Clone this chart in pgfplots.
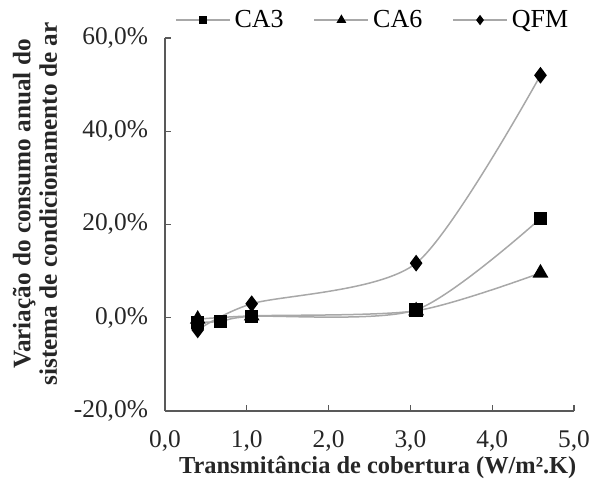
\documentclass[border=0pt]{standalone}
\usepackage{pgfplots}
\pgfplotsset{compat=1.18}
\usepackage{fontspec}
\setmainfont{Liberation Serif}
\definecolor{lgray}{RGB}{168,168,168}
\begin{document}
\begin{tikzpicture}
\path[use as bounding box] (-82.5pt,-39.5pt) rectangle (213.5pt,205.5pt);
\begin{axis}[
  at={(0,0)}, anchor=south west,
  scale only axis,
  width=204.5pt, height=186.5pt,
  xmin=0, xmax=5, ymin=-20, ymax=60,
  axis lines*=left,
  axis line style={black!65, line width=0.6pt},
  tick align=inside,
  tick style={black!65, line width=0.6pt},
  major tick length=3pt,
  xtick={0,1,2,3,4,5},
  ytick={-20,0,20,40,60},
  /pgf/number format/assume math mode=true,
  xticklabel={\pgfmathprintnumber[fixed,fixed zerofill,precision=1,use comma]{\tick}},
  yticklabel={\pgfmathprintnumber[fixed,fixed zerofill,precision=1,use comma]{\tick}\%},
  ticklabel style={font=\fontsize{12.7}{14}\selectfont, text=black!85},
  xticklabel style={yshift=-6.5pt},
  yticklabel style={xshift=-5pt},
  xlabel={\textbf{Transmitância de cobertura (W/m².K)}},
  ylabel={\textbf{Variação do consumo anual do}\\\textbf{sistema de condicionamento de ar}},
  ylabel style={at={(axis description cs:-0.318,0.555)}, anchor=center, align=center,
    font=\fontsize{12.6}{13.2}\selectfont, text=black!85},
  xlabel style={at={(axis description cs:0.52,-0.152)}, anchor=center,
    font=\fontsize{12.2}{13}\selectfont, text=black!85},
  legend style={at={(0.51,1.048)}, anchor=center, draw=none, fill=none, legend columns=3,
    font=\fontsize{13}{14}\selectfont, inner sep=0pt,
    /tikz/every even column/.append style={column sep=13pt}},
  legend image code/.code={
    \draw[#1, mark=none] (0pt,0pt) -- (27pt,0pt);
    \draw[#1, only marks, every mark/.append style={scale=0.55}] plot coordinates {(13.5pt,0pt)};
  },
  clip=false,
]
\addplot[lgray, line width=0.75pt, smooth, tension=0.45, mark=square*, mark size=3pt,
  mark options={black, fill=black, solid}]
  coordinates {(0.40,-1.0) (0.68,-0.8) (1.06,0.3) (3.07,1.7) (4.59,21.3)};
\addlegendentry{CA3}
\addplot[lgray, line width=0.75pt, smooth, tension=0.45, mark=triangle*, mark size=3.8pt,
  mark options={black, fill=black, solid}]
  coordinates {(0.40,-0.3) (1.06,0.4) (3.07,1.5) (4.59,9.6)};
\addlegendentry{CA6}
\addplot[lgray, line width=0.75pt, smooth, tension=0.45, mark=diamond*, mark size=3.6pt,
  mark options={black, fill=black, solid}]
  coordinates {(0.40,-2.6) (1.06,3.0) (3.07,11.7) (4.59,52.0)};
\addlegendentry{QFM}
\end{axis}
\end{tikzpicture}
\end{document}
